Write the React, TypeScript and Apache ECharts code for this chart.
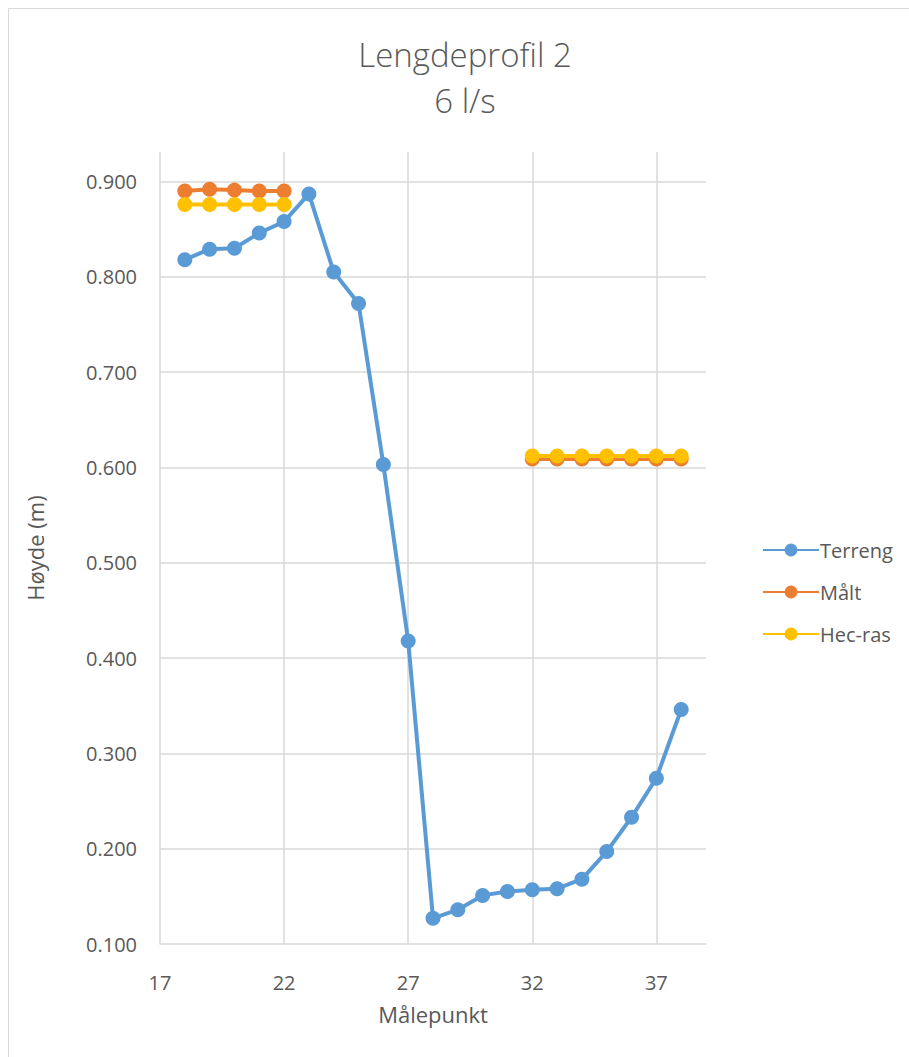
import React, { useEffect, useRef } from "react";
import * as echarts from "echarts";

// Measuring points (x) and heights (m) for each profile
const terrengX = [18, 19, 20, 21, 22, 23, 24, 25, 26, 27, 28, 29, 30, 31, 32, 33, 34, 35, 36, 37, 38];
const terrengY = [0.818, 0.829, 0.830, 0.846, 0.858, 0.887, 0.805, 0.772, 0.603, 0.418, 0.127, 0.136, 0.151, 0.155, 0.157, 0.158, 0.168, 0.197, 0.233, 0.274, 0.346];

const maltX = [18, 19, 20, 21, 22, null, 32, 33, 34, 35, 36, 37, 38];
const maltY = [0.890, 0.892, 0.891, 0.890, 0.890, null, 0.609, 0.609, 0.609, 0.609, 0.609, 0.609, 0.609];

const hecX = [18, 19, 20, 21, 22, null, 32, 33, 34, 35, 36, 37, 38];
const hecY = [0.876, 0.876, 0.876, 0.876, 0.876, null, 0.612, 0.612, 0.612, 0.612, 0.612, 0.612, 0.612];

const seriesNames = ["Terreng", "Målt", "Hec-ras"];
const seriesColors = ["#5B9BD5", "#ED7D31", "#FFC000"];

const titleLines = ["Lengdeprofil 2", "6 l/s"];
const xAxisName = "Målepunkt";
const yAxisName = "Høyde (m)";

const FONT = "'Open Sans', 'Noto Sans', sans-serif";
const TEXT_COLOR = "#595959";
const GRID_COLOR = "#D9D9D9";

function pairs(xs: (number | null)[], ys: (number | null)[]) {
  return xs.map((x, i) => (x === null || ys[i] === null ? ["-", "-"] : [x, ys[i]]));
}

export default function App() {
  const ref = useRef<HTMLDivElement>(null);

  useEffect(() => {
    if (!ref.current) return;
    const chart = echarts.init(ref.current, null, { renderer: "svg" });

    const lineSeries = (name: string, color: string, data: any[], z: number) => ({
      name,
      type: "line",
      data,
      z,
      connectNulls: false,
      symbol: "circle",
      symbolSize: 15,
      lineStyle: { color, width: 4 },
      itemStyle: { color },
      emphasis: { disabled: true },
    });

    const titleText = (text: string, y: number) => ({
      type: "text",
      x: 465,
      y,
      style: {
        text,
        fontFamily: FONT,
        fontSize: 33,
        fontWeight: 300,
        fill: TEXT_COLOR,
        textAlign: "center",
        textVerticalAlign: "middle",
      },
    });

    chart.setOption({
      animation: false,
      backgroundColor: "#FFFFFF",
      textStyle: { fontFamily: FONT },
      graphic: [
        {
          type: "rect",
          shape: { x: 8.5, y: 8.5, width: 1000, height: 1100 },
          style: { fill: "none", stroke: GRID_COLOR, lineWidth: 1 },
          silent: true,
        },
        titleText(titleLines[0], 54),
        titleText(titleLines[1], 100),
      ],
      legend: {
        orient: "vertical",
        left: 757,
        top: 535,
        itemWidth: 56,
        itemHeight: 16,
        itemGap: 22,
        data: seriesNames,
        textStyle: { color: TEXT_COLOR, fontSize: 20, fontFamily: FONT, padding: [0, 0, 0, -4] },
      },
      grid: { left: 160, right: 203, top: 152, bottom: 113, containLabel: false },
      xAxis: {
        type: "value",
        min: 17,
        max: 39,
        interval: 5,
        name: xAxisName,
        nameLocation: "middle",
        nameGap: 59,
        nameTextStyle: { color: TEXT_COLOR, fontSize: 22, fontFamily: FONT },
        axisLine: { show: true, lineStyle: { color: GRID_COLOR, width: 1.5 } },
        axisTick: { show: false },
        axisLabel: {
          color: TEXT_COLOR,
          fontSize: 20,
          fontFamily: FONT,
          margin: 28,
          showMaxLabel: false,
        },
        splitLine: { show: true, showMaxLine: false, lineStyle: { color: GRID_COLOR, width: 1.5 } },
      },
      yAxis: {
        type: "value",
        min: 0.1,
        max: 0.931,
        interval: 0.1,
        name: yAxisName,
        nameLocation: "middle",
        nameGap: 114,
        nameTextStyle: { color: TEXT_COLOR, fontSize: 22, fontFamily: FONT },
        axisLine: { show: false },
        axisTick: { show: false },
        axisLabel: {
          color: TEXT_COLOR,
          fontSize: 20,
          fontFamily: FONT,
          margin: 23,
          showMaxLabel: false,
          formatter: (v: number) => (v > 0.905 ? "" : v.toFixed(3)),
        },
        splitLine: { show: true, showMinLine: false, showMaxLine: false, lineStyle: { color: GRID_COLOR, width: 1.5 } },
      },
      series: [
        lineSeries(seriesNames[0], seriesColors[0], pairs(terrengX, terrengY), 3),
        lineSeries(seriesNames[1], seriesColors[1], pairs(maltX, maltY), 2),
        lineSeries(seriesNames[2], seriesColors[2], pairs(hecX, hecY), 4),
      ],
    });

    return () => chart.dispose();
  }, []);

  return (
    <div
      ref={ref}
      style={{ position: "absolute", left: 0, top: 0, width: 909, height: 1057 }}
    />
  );
}
